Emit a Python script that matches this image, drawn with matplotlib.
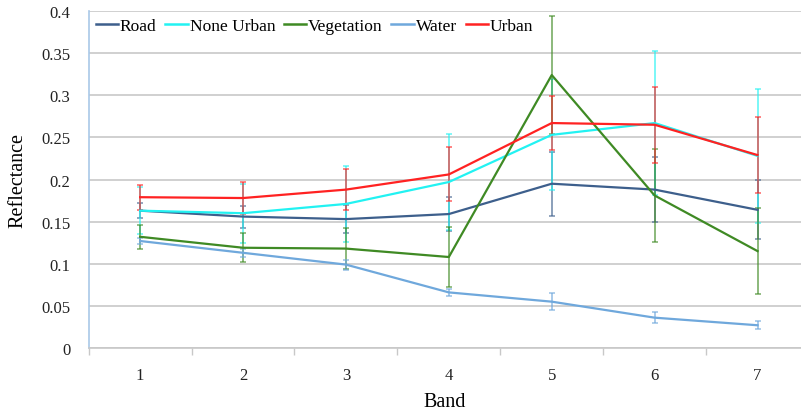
import matplotlib
matplotlib.use("Agg")
import matplotlib.pyplot as plt
from matplotlib.lines import Line2D
from matplotlib.ticker import FixedLocator, NullFormatter

bands = [1, 2, 3, 4, 5, 6, 7]

road = [0.163, 0.156, 0.153, 0.159, 0.195, 0.188, 0.164]
road_err = [0.009, 0.013, 0.017, 0.020, 0.038, 0.039, 0.035]

none_urban = [0.163, 0.160, 0.171, 0.197, 0.253, 0.267, 0.228]
none_urban_err = [0.028, 0.035, 0.045, 0.057, 0.066, 0.085, 0.080]

vegetation = [0.132, 0.119, 0.118, 0.108, 0.324, 0.181, 0.115]
vegetation_err = [0.014, 0.017, 0.024, 0.036, 0.070, 0.055, 0.051]

water = [0.127, 0.113, 0.099, 0.066, 0.055, 0.036, 0.027]
water_err = [0.004, 0.005, 0.006, 0.004, 0.010, 0.0065, 0.005]

urban = [0.179, 0.178, 0.188, 0.206, 0.267, 0.265, 0.229]
urban_err = [0.015, 0.019, 0.024, 0.032, 0.032, 0.045, 0.045]

series = [
    ("Road", road, road_err, "#3d5f8c"),
    ("None Urban", none_urban, none_urban_err, "#22f2f2"),
    ("Vegetation", vegetation, vegetation_err, "#3f8a24"),
    ("Water", water, water_err, "#6fa8dc"),
    ("Urban", urban, urban_err, "#ff2222"),
]

plt.rcParams['font.family'] = ['Liberation Serif', 'DejaVu Serif']

fig = plt.figure(figsize=(8.01, 4.14), dpi=100)
ax = fig.add_axes([0.1107, 0.157, 0.8893, 0.814])

handles = []
for name, vals, err, col in series:
    c = ax.errorbar(bands, vals, yerr=err, color=col, lw=1.6, elinewidth=1.3,
                    capsize=2.5, capthick=1.2, ecolor=col, zorder=3)
    # bars a bit lighter than the lines
    for part in list(c[1]) + list(c[2]):
        part.set_alpha(0.65)
    handles.append(Line2D([], [], color=col, lw=1.8, label=name))

ax.set_ylim(0, 0.4)
ax.set_yticks([0, 0.05, 0.1, 0.15, 0.2, 0.25, 0.3, 0.35, 0.4])
ax.set_yticklabels(["0", "0.05", "0.1", "0.15", "0.2", "0.25", "0.3", "0.35", "0.4"])
ax.set_xlim(0.5, 0.5 + 712.3 / 102.9)
ax.set_xticks(bands)
ax.xaxis.set_minor_locator(FixedLocator([0.5, 1.5, 2.5, 3.5, 4.5, 5.5, 6.5]))
ax.xaxis.set_minor_formatter(NullFormatter())
ax.tick_params(axis='x', which='major', length=0, pad=14, labelsize=12)
ax.tick_params(axis='x', which='minor', length=5, width=1, color='#c8c8c8', direction='out')
ax.tick_params(axis='y', length=0, pad=13, labelsize=12)
for lbl in ax.get_xticklabels() + ax.get_yticklabels():
    lbl.set_color('#222222')

ax.grid(axis='y', color='#c8c8c8', lw=1.2, zorder=0)
ax.set_axisbelow(True)
for s in ['top', 'right']:
    ax.spines[s].set_visible(False)
ax.spines['left'].set_color('#a9c8e8')
ax.spines['left'].set_linewidth(1.2)
ax.spines['bottom'].set_color('#c8c8c8')
ax.spines['bottom'].set_linewidth(1.2)

ax.set_xlabel("Band", fontsize=14.5, labelpad=6)
ax.set_ylabel("Reflectance", fontsize=14.5, labelpad=10)

ax.legend(handles=handles, loc='upper left', ncol=5, frameon=False, fontsize=12.5,
          handlelength=1.3, handletextpad=0.1, columnspacing=0.5,
          bbox_to_anchor=(-0.005, 1.01), borderaxespad=0.2)

fig.savefig("out.png", dpi=100)
